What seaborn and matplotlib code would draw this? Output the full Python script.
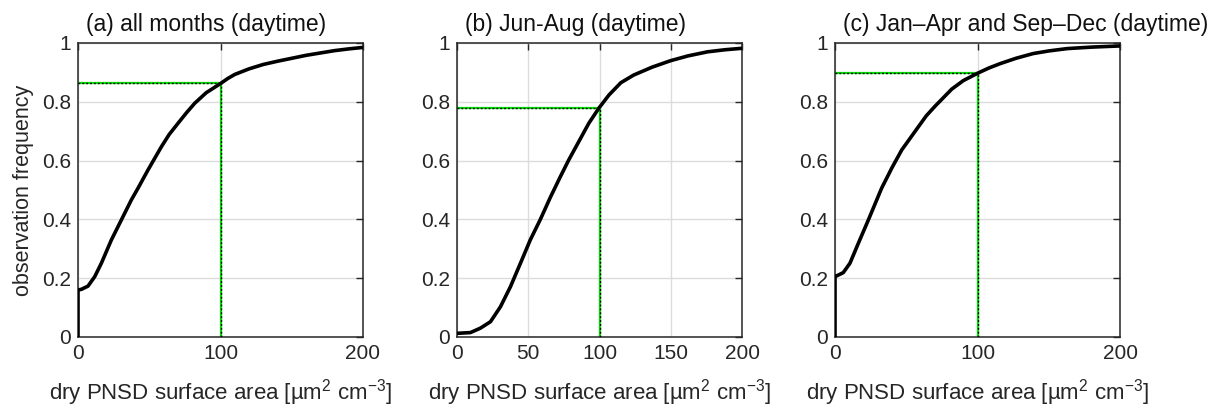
import numpy as np
import pandas as pd
import matplotlib
matplotlib.use("Agg")
import matplotlib.pyplot as plt
import seaborn as sns

sns.set_style("white")
plt.rcParams['font.family'] = ['Liberation Sans', 'DejaVu Sans']
plt.rcParams['mathtext.fontset'] = 'custom'
plt.rcParams['mathtext.rm'] = 'Liberation Sans'
plt.rcParams['mathtext.it'] = 'Liberation Sans'

# ---- data ----
titles = ["(a) all months (daytime)", "(b) Jun-Aug (daytime)",
          "(c) Jan\u2013Apr and Sep\u2013Dec (daytime)"]

x_a = [0, 0, 2.3, 7, 11.7, 16.4, 23.4, 30.4, 37.4, 42.1, 49.1, 58.5, 64, 70.2, 76, 81.9, 90, 100,
       105, 110, 120, 130, 140, 150, 160, 170, 180, 190, 200]
y_a = [0, 0.16, 0.162, 0.173, 0.205, 0.251, 0.33, 0.398, 0.466, 0.506, 0.568, 0.647, 0.689, 0.727,
       0.762, 0.795, 0.831, 0.862, 0.879, 0.893, 0.912, 0.927, 0.938, 0.948, 0.958, 0.966, 0.974,
       0.98, 0.985]

x_b = [0, 9.4, 16.4, 23.5, 30.5, 37.5, 45.5, 51.4, 58.5, 65.5, 72.5, 78.4, 85.4, 92.5, 99.5,
       106.6, 115, 124, 137, 150, 162, 175.8, 188, 200]
y_b = [0.0125, 0.015, 0.03, 0.052, 0.103, 0.171, 0.262, 0.33, 0.4, 0.475, 0.545, 0.602, 0.664,
       0.727, 0.778, 0.823, 0.865, 0.891, 0.918, 0.94, 0.956, 0.97, 0.977, 0.982]

x_c = [0, 0, 1.2, 5.8, 10.5, 16.4, 23.4, 32.7, 40, 46.8, 58.5, 64, 70.2, 81.9, 90, 100, 108, 116,
       127, 139, 150, 163, 180, 200]
y_c = [0, 0.207, 0.208, 0.219, 0.251, 0.319, 0.398, 0.506, 0.576, 0.636, 0.715, 0.752, 0.785,
       0.843, 0.872, 0.897, 0.915, 0.93, 0.948, 0.964, 0.973, 0.981, 0.986, 0.99]

ref_x = [100, 100, 100]
ref_y = [0.863, 0.779, 0.898]

xticks_list = [[0, 100, 200], [0, 50, 100, 150, 200], [0, 100, 200]]
yticks = [0, 0.2, 0.4, 0.6, 0.8, 1]
ytick_labels = ["0", "0.2", "0.4", "0.6", "0.8", "1"]

curves = [(x_a, y_a), (x_b, y_b), (x_c, y_c)]

fig = plt.figure(figsize=(12.19, 4.09), dpi=100)
lefts = [78, 457, 835]
W, H = 1219, 409
axw, top, bottom = 285, 43, 337
TXT = "#262626"

for i in range(3):
    ax = fig.add_axes([lefts[i] / W, 1 - bottom / H, axw / W, (bottom - top) / H])
    xs, ys = curves[i]
    df = pd.DataFrame({"x": xs, "y": ys})
    ax.grid(True, color="#dcdcdc", linewidth=1.0, zorder=0)
    # reference lines
    rx, ry = ref_x[i], ref_y[i]
    ax.plot([0, rx], [ry, ry], color="#00e000", lw=1.6, zorder=2, solid_capstyle="butt")
    ax.plot([rx, rx], [0, ry], color="#00e000", lw=1.6, zorder=2, solid_capstyle="butt")
    ax.plot([0, rx], [ry, ry], color="black", lw=1.0, ls=(0, (1.3, 1.5)), zorder=3)
    ax.plot([rx, rx], [0, ry], color="black", lw=1.0, ls=(0, (1.3, 1.5)), zorder=3)
    sns.lineplot(data=df, x="x", y="y", sort=False, estimator=None, color="black",
                 lw=2.6, ax=ax, zorder=4)
    ax.set_xlim(0, 200)
    ax.set_ylim(0, 1)
    ax.set_xticks(xticks_list[i])
    ax.set_yticks(yticks)
    ax.set_yticklabels(ytick_labels)
    ax.tick_params(direction="in", top=True, right=True, length=5, width=1.0,
                   labelsize=15, colors=TXT, pad=5)
    for s in ax.spines.values():
        s.set_color(TXT)
        s.set_linewidth(1.1)
    ax.set_xlabel("dry PNSD surface area [\u00b5m$^2$ cm$^{-3}$]", fontsize=16, labelpad=10,
                  color=TXT)
    ax.set_ylabel("observation frequency" if i == 0 else "", fontsize=15.5, labelpad=6,
                  color=TXT)
    ax.text(8 / axw, 1 + 12 / (bottom - top), titles[i], transform=ax.transAxes,
            fontsize=16.5, ha="left", va="baseline", color="#111111")

fig.savefig("out.png", dpi=100)
